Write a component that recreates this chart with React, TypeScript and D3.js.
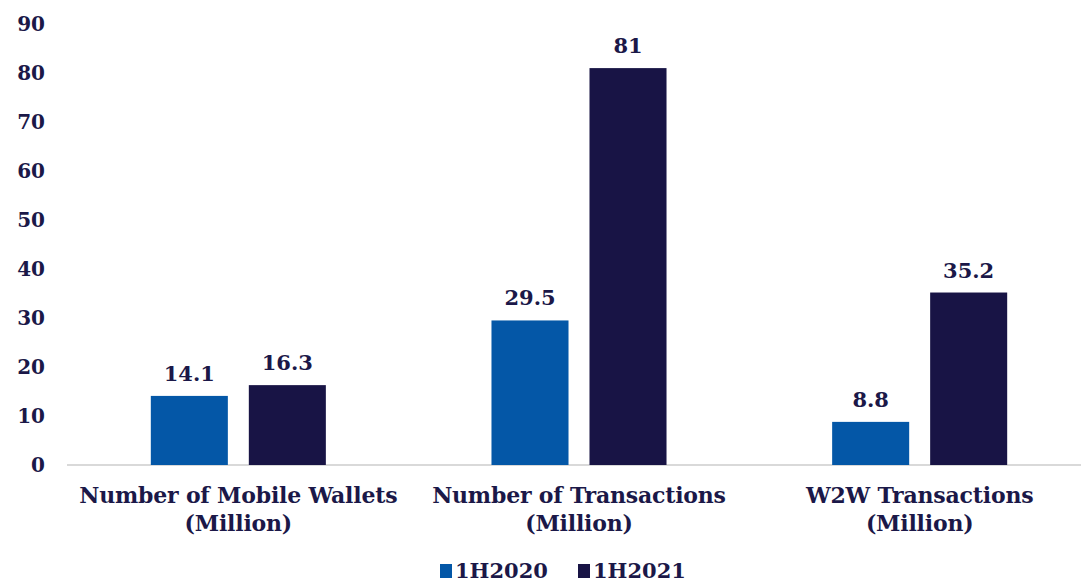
import React from 'react';
import * as d3 from 'd3';

const categories = ['Number of Mobile Wallets|(Million)', 'Number of Transactions|(Million)', 'W2W Transactions|(Million)'];
const seriesNames = ['1H2020', '1H2021'];
const values2020 = [14.1, 29.5, 8.8];
const values2021 = [16.3, 81, 35.2];
const yTicks = [0, 10, 20, 30, 40, 50, 60, 70, 80, 90];

const colors = ['#0457A7', '#181445'];
const textColor = '#1B1848';
const font = 'Georgia, "DejaVu Serif", serif';

const App = () => {
  const width = 1081;
  const height = 583;

  const x = d3.scaleBand().domain(categories).range([68, 1090]);
  const xInner = d3.scaleBand().domain(seriesNames).range([0, x.bandwidth()]).paddingInner(0.214).paddingOuter(0.845);
  const y = d3.scaleLinear().domain([0, 90]).range([465, 24]);

  const series = [values2020, values2021];

  return (
    <svg width={width} height={height} style={{ position: 'absolute', left: 0, top: 0 }}>
      <g fontFamily={font} fontWeight="bold" fill={textColor}>
        {yTicks.map((t) => (
          <text key={t} x={45} y={y(t)} dy="0.35em" textAnchor="end" fontSize={20}>
            {t}
          </text>
        ))}
        <line x1={67} x2={1081} y1={y(0)} y2={y(0)} stroke="#d9d9d9" strokeWidth={2} />
        {categories.map((c, i) => (
          <g key={c} transform={`translate(${x(c)},0)`}>
            {series.map((vals, s) => (
              <g key={s}>
                <rect
                  x={xInner(seriesNames[s])}
                  y={y(vals[i])}
                  width={xInner.bandwidth()}
                  height={y(0) - y(vals[i])}
                  fill={colors[s]}
                />
                <text
                  x={(xInner(seriesNames[s]) as number) + xInner.bandwidth() / 2}
                  y={y(vals[i]) - 15}
                  textAnchor="middle"
                  fontSize={21}
                >
                  {vals[i]}
                </text>
              </g>
            ))}
            {c.split('|').map((line, k) => (
              <text
                key={k}
                x={x.bandwidth() / 2}
                y={503 + k * 28}
                textAnchor="middle"
                fontSize={22}
                letterSpacing={-0.2}
              >
                {line}
              </text>
            ))}
          </g>
        ))}
        {seriesNames.map((s, i) => (
          <g key={s} transform={`translate(${440 + i * 138},0)`}>
            <rect x={0} y={564} width={12} height={14} fill={colors[i]} />
            <text x={15} y={578} fontSize={21}>
              {s}
            </text>
          </g>
        ))}
      </g>
    </svg>
  );
};

export default App;
